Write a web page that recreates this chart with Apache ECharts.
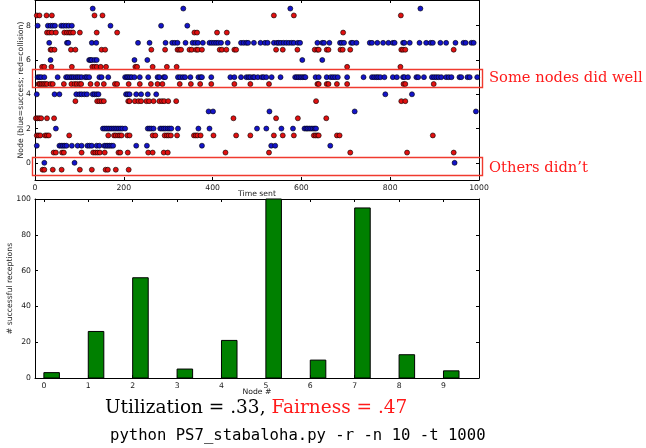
<!DOCTYPE html>
<html>
<head>
<meta charset="utf-8">
<script src="https://cdn.jsdelivr.net/npm/echarts@6/dist/echarts.min.js"></script>
<style>
  html, body { margin: 0; padding: 0; background: #fff; }
  #chart { width: 646px; height: 448px; }
</style>
</head>
<body>
<div id="chart"></div>
<script>
// time slots at which each node sent a packet that got through (blue)
const success0 = [21, 89, 945];
const success1 = [4, 55, 59, 63, 67, 71, 83, 96, 105, 118, 123, 128, 139, 145, 156, 160, 164, 168, 172, 176, 228, 252, 376, 532, 541, 665];
const success2 = [47, 153, 157, 161, 165, 169, 173, 177, 181, 185, 189, 193, 197, 203, 254, 258, 262, 267, 282, 286, 290, 294, 299, 303, 307, 322, 368, 393, 500, 521, 555, 581, 607, 611, 614, 618, 622, 626, 630, 633];
const success3 = [391, 401, 528, 720, 993];
const success4 = [4, 44, 55, 93, 100, 105, 111, 117, 130, 134, 139, 143, 205, 209, 213, 228, 239, 254, 273, 789, 849];
const success5 = [6, 10, 14, 21, 51, 70, 74, 79, 83, 87, 92, 96, 100, 105, 113, 117, 122, 145, 150, 165, 203, 207, 210, 214, 218, 224, 236, 255, 276, 280, 290, 293, 322, 327, 333, 338, 350, 368, 373, 376, 397, 440, 449,
  464, 476, 481, 485, 491, 494, 502, 511, 515, 521, 533, 553, 586, 590, 594, 598, 602, 606, 609, 632, 639, 657, 666, 671, 676, 682, 703, 740, 759, 764, 769, 773, 778, 787, 806, 815, 829, 832, 840, 859, 863, 876, 894, 899, 904, 909, 915, 926, 932, 938, 956, 960, 974, 979, 996];
const success6 = [35, 122, 125, 128, 134, 139, 224, 253, 602, 647];
const success7 = [32, 72, 75, 128, 138, 232, 258, 294, 309, 315, 321, 339, 355, 361, 367, 378, 393, 398, 403, 408, 413, 419, 434, 464, 470, 476, 480, 493, 508, 518, 524, 538, 545, 549, 554, 560, 566, 572, 578, 583, 592, 597,
  636, 647, 651, 663, 687, 691, 696, 712, 716, 724, 754, 759, 771, 784, 796, 806, 810, 829, 832, 844, 866, 881, 891, 896, 913, 926, 947, 965, 970, 983, 988];
const success8 = [6, 29, 35, 40, 45, 59, 64, 70, 76, 83, 170, 284, 343];
const success9 = [130, 334, 575, 868];

// time slots at which each node's packet collided (red)
const collision0 = [17, 21, 40, 60, 101, 128, 159, 164, 182, 211];
const collision1 = [42, 47, 61, 65, 105, 131, 136, 141, 146, 157, 188, 192, 209, 255, 265, 290, 299, 429, 527, 710, 838, 943];
const collision2 = [4, 8, 12, 23, 27, 31, 77, 165, 178, 182, 187, 191, 195, 208, 213, 265, 271, 292, 297, 301, 306, 320, 358, 362, 366, 373, 402, 453, 485, 538, 558, 583, 628, 632, 636, 639, 680, 686, 896];
const collision3 = [2, 6, 10, 14, 27, 43, 447, 543, 592, 656];
const collision4 = [91, 140, 145, 150, 155, 210, 213, 225, 233, 239, 251, 257, 267, 280, 286, 291, 300, 318, 633, 825, 834];
const collision5 = [8, 11, 15, 19, 23, 27, 35, 40, 65, 82, 89, 94, 100, 104, 125, 140, 155, 180, 185, 211, 236, 261, 276, 287, 326, 351, 372, 397, 449, 485, 527, 636, 639, 657, 661, 680, 703, 830, 834, 898];
const collision6 = [16, 21, 37, 83, 129, 134, 139, 148, 160, 226, 230, 265, 297, 319, 703, 823];
const collision7 = [35, 38, 44, 81, 91, 150, 158, 262, 293, 321, 325, 329, 348, 353, 363, 367, 376, 416, 421, 431, 449, 453, 543, 558, 591, 630, 636, 639, 657, 661, 688, 693, 710, 825, 829, 834, 943];
const collision8 = [27, 32, 38, 47, 66, 72, 77, 81, 86, 101, 139, 185, 359, 365, 410, 432, 694];
const collision9 = [4, 10, 26, 38, 134, 152, 538, 583, 824];

// bottom panel
const nodeIds = [0, 1, 2, 3, 4, 5, 6, 7, 8, 9];
const receptions = [3, 26, 56, 5, 21, 100, 10, 95, 13, 4];

// tick labels
const timeTicks = [0, 200, 400, 600, 800, 1000];
const nodeTicks = [0, 2, 4, 6, 8];
const countTicks = [0, 20, 40, 60, 80, 100];

const COLLISION_SHIFT = 0.4;   // red dots drawn a bit below their node row
const BAR_W = 0.35;

const successes = [success0, success1, success2, success3, success4, success5, success6, success7, success8, success9];
const collisions = [collision0, collision1, collision2, collision3, collision4, collision5, collision6, collision7, collision8, collision9];

const successPts = successes.flatMap((ts, node) => ts.map(t => [t, node]));
const collisionPts = collisions.flatMap((ts, node) => ts.map(t => [t, node - COLLISION_SHIFT]));

const SMALL = 7.7;
const TXT = '#1a1a1a';

// matplotlib-ish frame axis (ticks pointing inward)
function frameAxis(ticks, extra) {
    return Object.assign({
        type: 'value',
        nameMoveOverlap: false,
        axisLine: { show: true, onZero: false, lineStyle: { color: '#000', width: 1 } },
        axisTick: { show: true, inside: true, length: 3, customValues: ticks, lineStyle: { color: '#000', width: 1 } },
        axisLabel: {
            show: true, fontSize: SMALL, color: TXT, fontFamily: 'DejaVu Sans', margin: 4,
            customValues: ticks, formatter: v => String(v),
        },
        splitLine: { show: false },
        nameTextStyle: { fontSize: SMALL, color: TXT, fontFamily: 'DejaVu Sans' },
    }, extra);
}
const noLabels = { show: false };

const chart = echarts.init(document.getElementById('chart'), null, { renderer: 'canvas' });

const option = {
    backgroundColor: '#fff',
    animation: false,
    grid: [
        { left: 35, top: 0, width: 444, height: 180, outerBoundsMode: 'none' },
        { left: 35, top: 199, width: 444, height: 179, outerBoundsMode: 'none' },
    ],
    xAxis: [
        frameAxis(timeTicks, {
            gridIndex: 0, min: 0, max: 1000, position: 'bottom',
            name: 'Time sent', nameLocation: 'middle', nameGap: 10,
        }),
        frameAxis(timeTicks, { gridIndex: 0, min: 0, max: 1000, position: 'top', axisLabel: noLabels }),
        frameAxis(nodeIds, {
            gridIndex: 1, min: -0.2, max: 9.8, position: 'bottom',
            name: 'Node #', nameLocation: 'middle', nameGap: 10,
        }),
        frameAxis(nodeIds, { gridIndex: 1, min: -0.2, max: 9.8, position: 'top', axisLabel: noLabels }),
    ],
    yAxis: [
        frameAxis(nodeTicks, {
            gridIndex: 0, min: -1, max: 9.5, position: 'left',
            name: 'Node (blue=success; red=collision)', nameLocation: 'middle', nameRotate: 90, nameGap: 10,
        }),
        frameAxis(nodeTicks, { gridIndex: 0, min: -1, max: 9.5, position: 'right', axisLabel: noLabels }),
        frameAxis(countTicks, {
            gridIndex: 1, min: 0, max: 100, position: 'left',
            name: '# successful receptions', nameLocation: 'middle', nameRotate: 90, nameGap: 21,
        }),
        frameAxis(countTicks, { gridIndex: 1, min: 0, max: 100, position: 'right', axisLabel: noLabels }),
    ],
    series: [
        {
            type: 'scatter', xAxisIndex: 0, yAxisIndex: 0, data: successPts,
            symbolSize: 5,
            itemStyle: { color: '#1414c8', borderColor: '#000', borderWidth: 0.6, opacity: 1 },
        },
        {
            type: 'scatter', xAxisIndex: 0, yAxisIndex: 0, data: collisionPts,
            symbolSize: 5,
            itemStyle: { color: '#e01010', borderColor: '#000', borderWidth: 0.6, opacity: 1 },
        },
        {
            type: 'custom', xAxisIndex: 2, yAxisIndex: 2,
            data: nodeIds.map((n, i) => [n, receptions[i]]),
            renderItem: function (params, api) {
                const x = api.value(0);
                const v = api.value(1);
                const p0 = api.coord([x, v]);
                const p1 = api.coord([x + BAR_W, 0]);
                return {
                    type: 'rect',
                    shape: { x: p0[0], y: p0[1], width: p1[0] - p0[0], height: p1[1] - p0[1] },
                    style: { fill: '#008000', stroke: '#000', lineWidth: 1 },
                };
            },
        },
    ],
    graphic: [
        { type: 'rect', shape: { x: 32.5, y: 69.5, width: 450, height: 18 }, style: { fill: 'none', stroke: '#f03a2e', lineWidth: 1.4 }, z: 100 },
        { type: 'rect', shape: { x: 32.5, y: 157.5, width: 450, height: 18 }, style: { fill: 'none', stroke: '#f03a2e', lineWidth: 1.4 }, z: 100 },
        { type: 'text', x: 489, y: 78, style: { text: 'Some nodes did well', font: '14.7px "DejaVu Serif"', fill: '#ff1a1a', verticalAlign: 'middle' }, z: 100 },
        { type: 'text', x: 489, y: 168, style: { text: 'Others didn’t', font: '14.7px "DejaVu Serif"', fill: '#ff1a1a', verticalAlign: 'middle' }, z: 100 },
        {
            type: 'text', x: 105, y: 408,
            style: {
                text: '{a|Utilization = .33, }{b|Fairness = .47}',
                font: '18.5px "DejaVu Serif"', verticalAlign: 'middle',
                rich: {
                    a: { fill: '#000', font: '18.5px "DejaVu Serif"' },
                    b: { fill: '#ff1a1a', font: '18.5px "DejaVu Serif"' },
                },
            },
        },
        { type: 'text', x: 110, y: 436, style: { text: 'python PS7_stabaloha.py -r -n 10 -t 1000', font: '15.6px "DejaVu Sans Mono"', fill: '#000', verticalAlign: 'middle' } },
    ],
};

chart.setOption(option);
</script>
</body>
</html>
